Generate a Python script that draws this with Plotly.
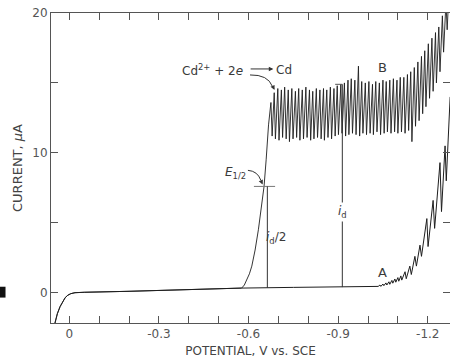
import plotly.graph_objects as go

# ---------------- data (potential V vs SCE, current uA) ----------------
# shared residual-current baseline
base_V = [0.048, 0.040, 0.031, 0.022, 0.014, 0.005, -0.005, -0.019, -0.05, -0.20, -0.40, -0.577]
base_I = [-2.17, -1.50, -1.00, -0.62, -0.36, -0.18, -0.07, 0.00, 0.03, 0.10, 0.22, 0.33]

# curve A (supporting electrolyte only) after the common baseline
A_V = [-0.75, -0.92, -1.034, -1.040, -1.043, -1.050, -1.053, -1.060, -1.063, -1.070, -1.073,
       -1.080, -1.083, -1.090, -1.093, -1.100, -1.103, -1.110, -1.113, -1.124, -1.128, -1.140,
       -1.145, -1.157, -1.162, -1.174, -1.179, -1.197, -1.201, -1.218, -1.223, -1.241, -1.246,
       -1.258, -1.262, -1.275]
A_I = [0.38, 0.42, 0.45, 0.55, 0.45, 0.62, 0.50, 0.70, 0.55, 0.78, 0.60, 0.88, 0.68, 0.98, 0.75,
       1.08, 0.82, 1.20, 0.90, 1.50, 1.00, 1.90, 1.30, 2.60, 1.90, 3.40, 2.60, 5.30, 3.30, 6.60,
       4.60, 9.30, 5.80, 10.5, 8.0, 14.0]

# curve B: Cd wave rising part
wave_V = [-0.586, -0.594, -0.603, -0.611, -0.622, -0.633, -0.644, -0.652, -0.659, -0.663, -0.667]
wave_I = [0.55, 0.95, 1.35, 1.90, 3.05, 4.50, 6.15, 7.60, 9.50, 10.90, 12.00]

# curve B: drop oscillations (peaks and troughs)
peak_V = [-0.675, -0.686, -0.698, -0.710, -0.721, -0.733, -0.745, -0.757, -0.768, -0.780,
          -0.792, -0.804, -0.815, -0.827, -0.839, -0.851, -0.862, -0.874, -0.886, -0.897,
          -0.909, -0.921, -0.933, -0.944, -0.956, -0.968, -0.979, -0.991, -1.003, -1.015,
          -1.026, -1.038, -1.050, -1.061, -1.073, -1.085, -1.097, -1.108, -1.120, -1.132,
          -1.143, -1.155, -1.167, -1.179, -1.190, -1.202, -1.214, -1.226, -1.237, -1.249,
          -1.261, -1.272]
peak_I = [13.6, 14.3,
          14.6, 14.5, 14.7, 14.5, 14.6, 14.4, 14.6, 14.5, 14.7, 14.5, 14.4, 14.6, 14.5, 14.6, 14.5, 14.7, 14.6,
          14.8, 14.9, 15.0, 15.2, 15.3, 15.2, 16.2, 15.1,
          15.0, 15.1, 14.9, 15.1, 15.0, 15.2, 15.1, 15.2, 15.3, 15.2, 15.4,
          15.4, 15.6, 15.8, 16.1, 16.5, 16.9, 17.3, 17.8, 18.2, 18.6, 19.0, 19.8, 20.8, 22.0]
trough_V = [-0.679, -0.690, -0.702, -0.714, -0.726, -0.737, -0.749, -0.761, -0.772, -0.784,
            -0.796, -0.808, -0.819, -0.831, -0.843, -0.854, -0.866, -0.878, -0.890, -0.901,
            -0.913, -0.925, -0.936, -0.948, -0.960, -0.972, -0.983, -0.995, -1.007, -1.018,
            -1.030, -1.042, -1.054, -1.065, -1.077, -1.089, -1.100, -1.112, -1.124, -1.136,
            -1.147, -1.159, -1.171, -1.183, -1.194, -1.206, -1.218, -1.229, -1.241, -1.253,
            -1.265]
trough_I = [11.2, 11.0, 10.9, 11.1, 11.0, 10.8, 11.0, 11.1, 10.9, 11.0, 11.1, 10.9, 11.0, 11.1, 11.0, 10.9, 11.1, 11.0,
            11.2, 11.3, 11.4, 11.2, 11.3, 11.4, 11.3, 11.2, 11.4, 11.3, 11.4, 11.3, 11.5, 11.3, 11.4, 11.5, 11.4, 11.5, 11.4, 11.5,
            11.4, 11.6, 10.8, 11.9, 12.3, 12.8, 13.3, 13.9, 14.4, 15.0, 15.8, 17.2, 18.8]

# construction lines
E_half_V = -0.663
E_half_I = 7.6
id_V = -0.914
id_top_I = 14.9

# ticks
x_tickvals = [0, -0.1, -0.2, -0.3, -0.4, -0.5, -0.6, -0.7, -0.8, -0.9, -1.0, -1.1, -1.2]
x_ticktext = ["0", "", "", "-0.3", "", "", "-0.6", "", "", "-0.9", "", "", "-1.2"]
y_tickvals = [0, 5, 10, 15, 20]
y_ticktext = ["0", "", "10", "", "20"]

# ---------------- build traces ----------------
Ax = base_V + A_V
Ay = base_I + A_I

Bx = base_V + wave_V
By = base_I + wave_I
for k in range(len(peak_V)):
    Bx.append(peak_V[k]); By.append(peak_I[k])
    if k < len(trough_V):
        Bx.append(trough_V[k]); By.append(trough_I[k])

line_col = "#1e1e1e"
txt_col = "#3a3a3a"
ax_col = "#555555"

fig = go.Figure()
fig.add_trace(go.Scatter(x=Ax, y=Ay, mode="lines", line=dict(color=line_col, width=1), hoverinfo="skip"))
fig.add_trace(go.Scatter(x=Bx, y=By, mode="lines", line=dict(color=line_col, width=0.9), hoverinfo="skip"))

shapes = []
shapes.append(dict(type="line", xref="x", yref="y", x0=-0.618, x1=-0.689, y0=E_half_I, y1=E_half_I,
                   line=dict(color="#777", width=1)))
shapes.append(dict(type="line", xref="x", yref="y", x0=E_half_V, x1=E_half_V, y0=0.34, y1=E_half_I,
                   line=dict(color="#333", width=1)))
shapes.append(dict(type="line", xref="x", yref="y", x0=id_V, x1=id_V, y0=0.40, y1=id_top_I,
                   line=dict(color="#333", width=1)))
shapes.append(dict(type="line", xref="x", yref="y", x0=-0.890, x1=id_V, y0=id_top_I, y1=id_top_I,
                   line=dict(color="#555", width=1)))
shapes.append(dict(type="path", xref="x", yref="y",
                   path="M -0.605,15.57 Q -0.665,15.6 -0.680,14.75",
                   line=dict(color="#333", width=1)))
shapes.append(dict(type="path", xref="x", yref="y",
                   path="M -0.598,8.75 Q -0.630,8.7 -0.641,8.05",
                   line=dict(color="#333", width=1)))
shapes.append(dict(type="rect", xref="paper", yref="paper", x0=-0.128, x1=-0.114, y0=0.082, y1=0.117,
                   fillcolor="#111", line=dict(width=0)))

fnt = "DejaVu Sans, Liberation Sans, sans-serif"
ann = []
ann.append(dict(x=-0.481, y=15.9, xref="x", yref="y", text="Cd<sup>2+</sup> + 2<i>e</i>", showarrow=False,
                font=dict(size=12, color=txt_col, family=fnt)))
ann.append(dict(x=-0.683, y=16.0, ax=-0.602, ay=16.0, xref="x", yref="y", axref="x", ayref="y", text="",
                showarrow=True, arrowhead=2, arrowsize=0.9, arrowwidth=1, arrowcolor="#333"))
ann.append(dict(x=-0.718, y=15.9, xref="x", yref="y", text="Cd", showarrow=False,
                font=dict(size=12, color=txt_col, family=fnt)))
ann.append(dict(x=-0.687, y=14.5, ax=-0.679, ay=14.85, xref="x", yref="y", axref="x", ayref="y", text="",
                showarrow=True, arrowhead=2, arrowsize=0.9, arrowwidth=1, arrowcolor="#333"))
ann.append(dict(x=-0.558, y=8.56, xref="x", yref="y", text="<i>E</i><sub>1/2</sub>", showarrow=False,
                font=dict(size=12, color=txt_col, family=fnt)))
ann.append(dict(x=-0.647, y=7.74, ax=-0.640, ay=8.1, xref="x", yref="y", axref="x", ayref="y", text="",
                showarrow=True, arrowhead=2, arrowsize=0.9, arrowwidth=1, arrowcolor="#333"))
ann.append(dict(x=-0.692, y=3.91, xref="x", yref="y", text="<i>i</i><sub>d</sub>/2", showarrow=False,
                font=dict(size=12, color=txt_col, family=fnt)))
ann.append(dict(x=id_V, y=5.77, xref="x", yref="y", text="<i>i</i><sub>d</sub>", showarrow=False,
                bgcolor="white", font=dict(size=12, color=txt_col, family=fnt)))
ann.append(dict(x=-1.050, y=16.07, xref="x", yref="y", text="B", showarrow=False,
                font=dict(size=13, color=txt_col, family=fnt)))
ann.append(dict(x=-1.050, y=1.48, xref="x", yref="y", text="A", showarrow=False,
                font=dict(size=13, color=txt_col, family=fnt)))

fig.update_layout(
    width=450, height=360,
    margin=dict(l=51, r=0, t=13, b=37, autoexpand=False),
    paper_bgcolor="white", plot_bgcolor="white",
    showlegend=False,
    shapes=shapes, annotations=ann,
    font=dict(family=fnt, color=txt_col),
    xaxis=dict(range=[0.0613, -1.2745], showgrid=False, zeroline=False, automargin=False,
               showline=True, linecolor=ax_col, linewidth=1, mirror="ticks",
               ticks="inside", ticklen=7, tickcolor=ax_col, tickwidth=1,
               tickvals=x_tickvals, ticktext=x_ticktext,
               tickfont=dict(size=12, color="#555", family=fnt),
               title=dict(text="POTENTIAL, V vs. SCE", font=dict(size=12, color="#444", family=fnt), standoff=6)),
    yaxis=dict(range=[-2.167, 20], showgrid=False, zeroline=False, automargin=False,
               showline=True, linecolor=ax_col, linewidth=1, mirror="ticks",
               ticks="inside", ticklen=7, tickcolor=ax_col, tickwidth=1,
               tickvals=y_tickvals, ticktext=y_ticktext,
               tickfont=dict(size=12, color="#555", family=fnt),
               title=dict(text="CURRENT, <i>μ</i>A", font=dict(size=13, color="#444", family=fnt), standoff=6)),
)

fig.write_html("out.html", config={"displayModeBar": False},
               post_script="document.body.style.margin='0';document.body.style.padding='0';"
                           "document.documentElement.style.overflow='hidden';")
